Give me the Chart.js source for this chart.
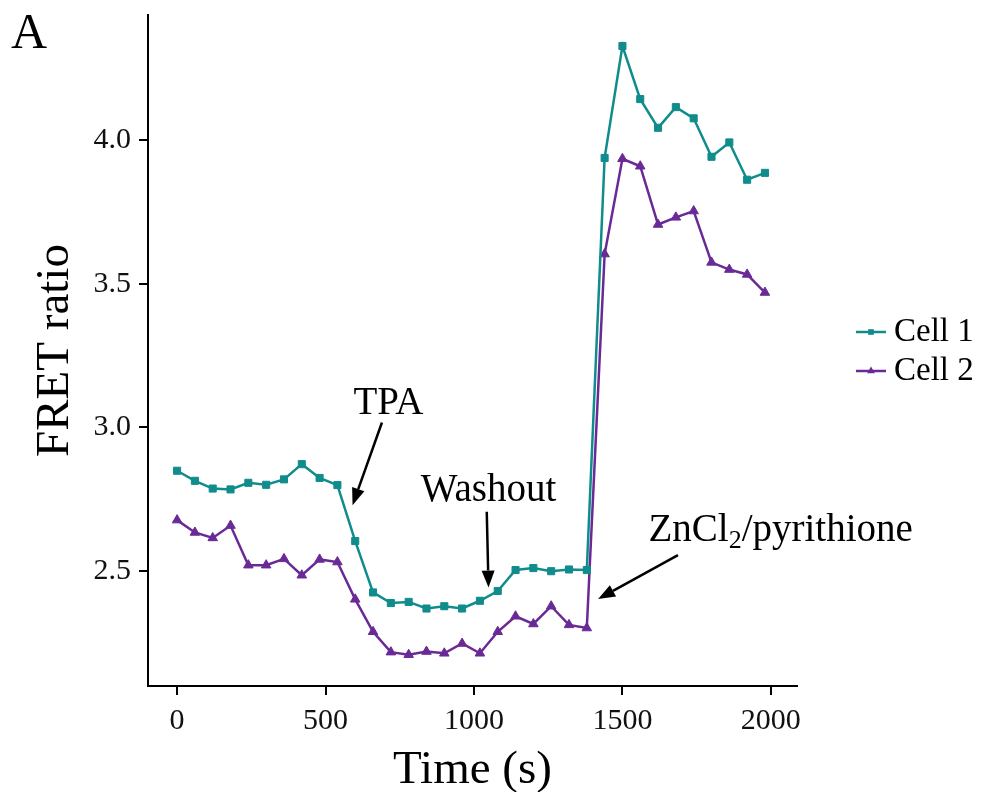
<!DOCTYPE html>
<html>
<head>
<meta charset="utf-8">
<title>FRET ratio</title>
<script src="https://cdn.jsdelivr.net/npm/chart.js@4.4.0/dist/chart.umd.min.js"></script>
<style>
    html, body { margin: 0; padding: 0; background: #fff; }
    #wrap { width: 981px; height: 792px; }
</style>
</head>
<body>
<div id="wrap"><canvas id="fret-chart" width="981" height="792"></canvas></div>
<script>
// Sampling times (s)
const timePoints = [0, 60, 120, 180, 240, 300, 360, 420, 480, 540, 600, 660, 720, 780, 840, 900, 960,
    1020, 1080, 1140, 1200, 1260, 1320, 1380, 1440, 1500, 1560, 1620, 1680, 1740, 1800, 1860, 1920, 1980];

const cell1 = [2.848, 2.813, 2.786, 2.783, 2.806, 2.799, 2.818, 2.871, 2.823, 2.798, 2.603, 2.424,
    2.387, 2.391, 2.368, 2.376, 2.368, 2.395, 2.429, 2.502, 2.509, 2.498, 2.504, 2.502,
    3.938, 4.328, 4.143, 4.043, 4.115, 4.076, 3.942, 3.992, 3.862, 3.886];

const cell2 = [2.676, 2.633, 2.614, 2.657, 2.519, 2.519, 2.541, 2.484, 2.539, 2.530, 2.400, 2.287,
    2.216, 2.207, 2.218, 2.212, 2.246, 2.212, 2.287, 2.341, 2.314, 2.376, 2.311, 2.300,
    3.603, 3.935, 3.909, 3.706, 3.731, 3.753, 3.574, 3.549, 3.532, 3.469];

const xTicks = [0, 500, 1000, 1500, 2000];
const yTicks = [2.5, 3.0, 3.5, 4.0];

const TEAL = '#118c8c';
const PURPLE = '#6a2a96';
const FONT = '"Liberation Serif", "DejaVu Serif", serif';

// Treatment markers: label position and arrow, in data units
const treatments = [
    { parts: [['TPA']], at: [712, 3.080], from: [690, 3.016], to: [591, 2.728] },
    { parts: [['Washout']], at: [1049, 2.777], from: [1043, 2.705], to: [1049, 2.441] },
    { parts: [['ZnCl'], ['2', 'sub'], ['/pyrithione']], at: [2033, 2.638], from: [1687, 2.554], to: [1418, 2.401] }
];

function drawArrow(ctx, x1, y1, x2, y2) {
    const angle = Math.atan2(y2 - y1, x2 - x1);
    const headLen = 17;
    const headHalf = 6.5;
    const bx = x2 - headLen * Math.cos(angle);
    const by = y2 - headLen * Math.sin(angle);
    ctx.beginPath();
    ctx.moveTo(x1, y1);
    ctx.lineTo(bx, by);
    ctx.stroke();
    ctx.beginPath();
    ctx.moveTo(x2, y2);
    ctx.lineTo(bx + headHalf * Math.sin(angle), by - headHalf * Math.cos(angle));
    ctx.lineTo(bx - headHalf * Math.sin(angle), by + headHalf * Math.cos(angle));
    ctx.closePath();
    ctx.fill();
}

const overlayPlugin = {
    id: 'overlay',
    afterDraw(chart) {
        const ctx = chart.ctx;
        const xs = chart.scales.x;
        const ys = chart.scales.y;
        ctx.save();

        // panel letter
        ctx.fillStyle = '#000';
        ctx.font = '50px ' + FONT;
        ctx.textAlign = 'left';
        ctx.textBaseline = 'alphabetic';
        ctx.fillText('A', 11, 48);

        // treatment labels and arrows
        ctx.strokeStyle = '#000';
        ctx.lineWidth = 2.5;
        treatments.forEach(t => {
            const mainFont = '39px ' + FONT;
            const subFont = '26px ' + FONT;
            let total = 0;
            t.parts.forEach(p => {
                ctx.font = p[1] === 'sub' ? subFont : mainFont;
                total += ctx.measureText(p[0]).width;
            });
            let x = xs.getPixelForValue(t.at[0]) - total / 2;
            const y = ys.getPixelForValue(t.at[1]);
            ctx.textBaseline = 'middle';
            t.parts.forEach(p => {
                const sub = p[1] === 'sub';
                ctx.font = sub ? subFont : mainFont;
                ctx.fillText(p[0], x, sub ? y + 10 : y);
                x += ctx.measureText(p[0]).width;
            });
            drawArrow(ctx,
                xs.getPixelForValue(t.from[0]), ys.getPixelForValue(t.from[1]),
                xs.getPixelForValue(t.to[0]), ys.getPixelForValue(t.to[1]));
        });

        // legend: line with marker, then label
        chart.data.datasets.forEach((ds, i) => {
            const ly = 332 + i * 39;
            ctx.strokeStyle = ds.borderColor;
            ctx.fillStyle = ds.backgroundColor;
            ctx.lineWidth = 2.5;
            ctx.beginPath();
            ctx.moveTo(856, ly);
            ctx.lineTo(886, ly);
            ctx.stroke();
            ctx.lineWidth = 1;
            Chart.helpers.drawPoint(ctx, { pointStyle: ds.pointStyle, radius: ds.pointRadius - 1, rotation: 0 }, 871, ly);
            ctx.fillStyle = '#000';
            ctx.font = '33px ' + FONT;
            ctx.textAlign = 'left';
            ctx.textBaseline = 'middle';
            ctx.fillText(ds.label, 894, ly);
        });

        ctx.restore();
    }
};

const ctx = document.getElementById('fret-chart').getContext('2d');

new Chart(ctx, {
    type: 'line',
    data: {
        labels: timePoints,
        datasets: [
            {
                label: 'Cell 1',
                data: timePoints.map((t, i) => ({ x: t, y: cell1[i] })),
                borderColor: TEAL,
                backgroundColor: TEAL,
                borderWidth: 2.5,
                pointStyle: 'rect',
                pointRadius: 5,
                pointBorderWidth: 1,
                tension: 0
            },
            {
                label: 'Cell 2',
                data: timePoints.map((t, i) => ({ x: t, y: cell2[i] })),
                borderColor: PURPLE,
                backgroundColor: PURPLE,
                borderWidth: 2.5,
                pointStyle: 'triangle',
                pointRadius: 5.5,
                pointBorderWidth: 1,
                tension: 0
            }
        ]
    },
    options: {
        responsive: false,
        animation: false,
        devicePixelRatio: 1,
        layout: { padding: { left: 0, top: 15, right: 184, bottom: 0 } },
        plugins: {
            legend: { display: false },
            tooltip: { enabled: false }
        },
        scales: {
            x: {
                type: 'linear',
                min: -98,
                max: 2088,
                afterBuildTicks: scale => { scale.ticks = xTicks.map(v => ({ value: v })); },
                afterFit: scale => {
                    scale.height = 106;
                    scale.paddingLeft = 0;
                    scale.paddingRight = 0;
                },
                ticks: {
                    color: '#111',
                    padding: 8,
                    font: { family: FONT, size: 30 },
                    callback: v => String(v)
                },
                grid: { drawOnChartArea: false, drawTicks: true, tickLength: 9, color: '#000', lineWidth: 2 },
                border: { display: true, color: '#000', width: 2 },
                title: {
                    display: true,
                    text: 'Time (s)',
                    color: '#000',
                    font: { family: FONT, size: 47, lineHeight: 0.9 },
                    padding: { top: 0, bottom: 0 }
                }
            },
            y: {
                min: 2.098,
                max: 4.436,
                afterBuildTicks: scale => { scale.ticks = yTicks.map(v => ({ value: v })); },
                afterFit: scale => {
                    scale.width = 148;
                    scale.paddingTop = 0;
                    scale.paddingBottom = 0;
                },
                ticks: {
                    color: '#111',
                    padding: 8,
                    font: { family: FONT, size: 30 },
                    callback: v => v.toFixed(1)
                },
                grid: { drawOnChartArea: false, drawTicks: true, tickLength: 9, color: '#000', lineWidth: 2 },
                border: { display: true, color: '#000', width: 2 },
                title: {
                    display: true,
                    text: 'FRET ratio',
                    color: '#000',
                    font: { family: FONT, size: 47, lineHeight: 1.0 },
                    padding: { top: 32, bottom: 0 }
                }
            }
        }
    },
    plugins: [overlayPlugin]
});
</script>
</body>
</html>
